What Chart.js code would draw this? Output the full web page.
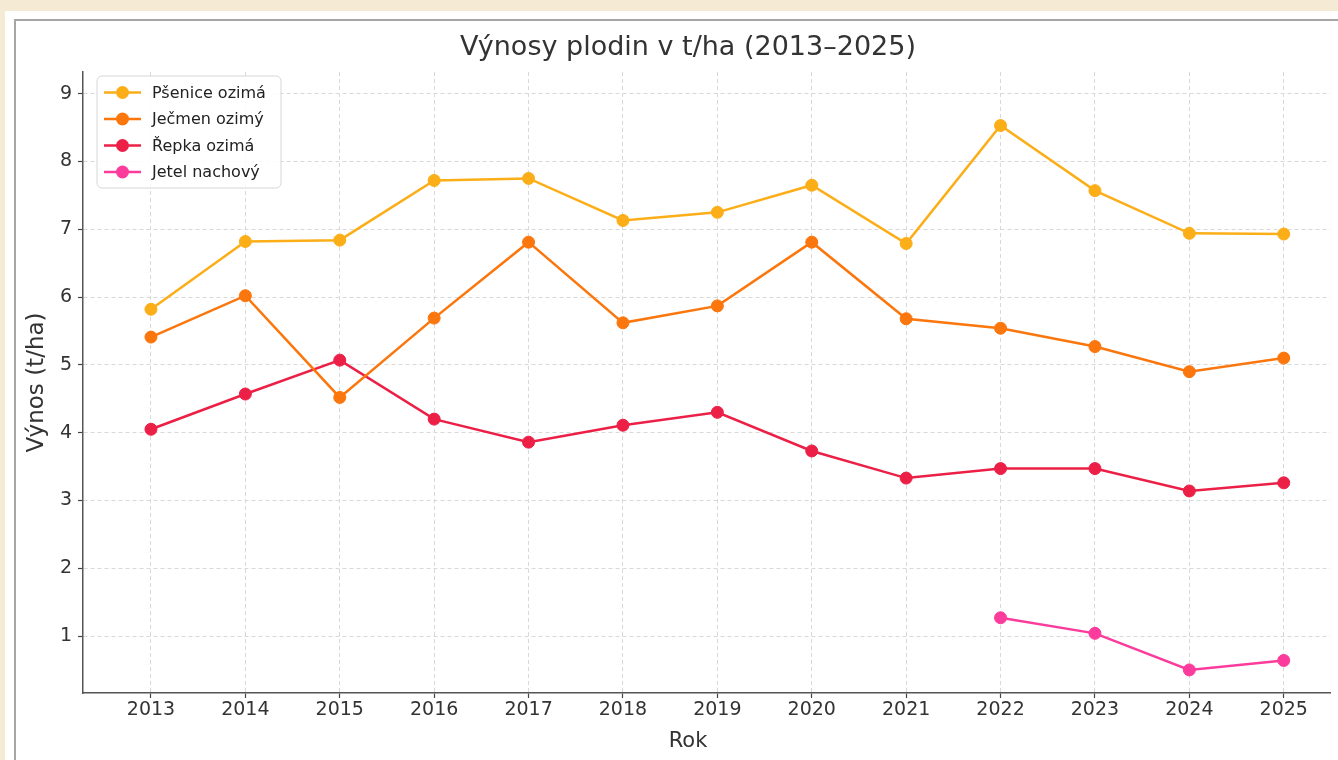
<!DOCTYPE html>
<html lang="cs">
<head>
<meta charset="utf-8">
<title>Výnosy plodin v t/ha (2013–2025)</title>
<script src="https://cdn.jsdelivr.net/npm/chart.js@4.4.1/dist/chart.umd.min.js"></script>
<style>
  html, body { margin: 0; padding: 0; }
  body {
    width: 1338px; height: 760px; overflow: hidden;
    background: #f5ebd4; position: relative;
    font-family: 'DejaVu Sans', sans-serif;
  }
  .panel { position: absolute; left: 5px; top: 11px; width: 1400px; height: 800px; background: #fff; }
  .frame { position: absolute; left: 14px; top: 19px; width: 1400px; height: 800px; border: 2px solid #a6a6a6; box-sizing: border-box; }
  #chart { position: absolute; left: 0; top: 0; }
</style>
</head>
<body>
<div class="panel"></div>
<div class="frame"></div>
<canvas id="chart" width="1338" height="760"></canvas>

<script>
/* ── data ── */
const years   = [2013, 2014, 2015, 2016, 2017, 2018, 2019, 2020, 2021, 2022, 2023, 2024, 2025];
const psenice = [5.82, 6.82, 6.84, 7.72, 7.75, 7.13, 7.25, 7.65, 6.79, 8.53, 7.57, 6.94, 6.93];
const jecmen  = [5.41, 6.02, 4.52, 5.69, 6.81, 5.62, 5.87, 6.81, 5.68, 5.54, 5.27, 4.90, 5.10];
const repka   = [4.05, 4.57, 5.07, 4.20, 3.86, 4.11, 4.30, 3.73, 3.33, 3.47, 3.47, 3.14, 3.26];
const jetel   = [null, null, null, null, null, null, null, null, null, 1.27, 1.04, 0.50, 0.64];
const yTicks  = [1, 2, 3, 4, 5, 6, 7, 8, 9];

const COLORS = {
  psenice: '#fbae17',
  jecmen:  '#fb760c',
  repka:   '#ec2046',
  jetel:   '#fb3c9c',
};

const FONT = "'DejaVu Sans', sans-serif";
Chart.defaults.font.family = FONT;
Chart.defaults.color = '#333';

function points(vals) {
  return years.map((y, i) => ({ x: y, y: vals[i] }));
}

function series(label, vals, color) {
  return {
    label,
    data: points(vals),
    borderColor: color,
    backgroundColor: color,
    borderWidth: 2.5,
    pointRadius: 6,
    pointBorderWidth: 1,
    pointBackgroundColor: color,
    pointBorderColor: color,
    tension: 0,
  };
}

/* ── legend inside plot, top-left ── */
const innerLegend = {
  id: 'innerLegend',
  afterDraw(chart) {
    const ctx = chart.ctx;
    const x = 97, y = 76, w = 184, h = 112, r = 5;
    ctx.save();
    ctx.beginPath();
    ctx.roundRect(x, y, w, h, r);
    ctx.fillStyle = 'rgba(255,255,255,0.85)';
    ctx.fill();
    ctx.strokeStyle = '#d6d6d6';
    ctx.lineWidth = 1;
    ctx.stroke();
    ctx.font = '16px ' + FONT;
    ctx.textBaseline = 'middle';
    chart.data.datasets.forEach((ds, i) => {
      const cy = y + 16.5 + i * 26.5;
      ctx.strokeStyle = ds.borderColor;
      ctx.lineWidth = 2.5;
      ctx.beginPath();
      ctx.moveTo(104, cy);
      ctx.lineTo(141, cy);
      ctx.stroke();
      ctx.fillStyle = ds.borderColor;
      ctx.beginPath();
      ctx.arc(122.5, cy, 6.5, 0, Math.PI * 2);
      ctx.fill();
      ctx.fillStyle = '#222';
      ctx.fillText(ds.label, 152, cy + 1);
    });
    ctx.restore();
  }
};

const gridOpts = { color: '#d9d9d9', lineWidth: 1, tickLength: 5, tickColor: '#444', tickWidth: 1.2 };
const borderOpts = { display: true, color: '#555', width: 1.5, dash: [4, 3] };

new Chart(document.getElementById('chart'), {
  type: 'line',
  data: {
    datasets: [
      series('Pšenice ozimá', psenice, COLORS.psenice),
      series('Ječmen ozimý',  jecmen,  COLORS.jecmen),
      series('Řepka ozimá',   repka,   COLORS.repka),
      series('Jetel nachový', jetel,   COLORS.jetel),
    ]
  },
  options: {
    responsive: false,
    animation: false,
    devicePixelRatio: 1,
    layout: { padding: { left: 46, right: 8, top: 0, bottom: 0 } },
    plugins: {
      legend: { display: false },
      tooltip: { enabled: false },
      title: {
        display: true,
        text: 'Výnosy plodin v t/ha (2013–2025)',
        color: '#333',
        font: { size: 27, weight: 'normal', lineHeight: 1.2 },
        padding: { top: 32, bottom: 7.6 },
      },
      // x-axis caption ("Rok"), placed under the tick labels
      subtitle: {
        display: true,
        position: 'bottom',
        text: 'Rok',
        color: '#333',
        font: { size: 21, weight: 'normal', lineHeight: 1.2 },
        padding: { top: 0, bottom: 5.4 },
      },
    },
    scales: {
      x: {
        type: 'linear',
        min: 2012.28,
        max: 2025.49,
        afterBuildTicks: s => { s.ticks = years.map(v => ({ value: v })); },
        afterFit: s => { s.height = 36.4; },
        ticks: { callback: v => String(v), font: { size: 19 }, color: '#333', padding: 1, maxRotation: 0 },
        grid: gridOpts,
        border: borderOpts,
      },
      y: {
        type: 'linear',
        min: 0.16,
        max: 9.32,
        afterBuildTicks: s => { s.ticks = yTicks.map(v => ({ value: v })); },
        afterFit: s => { s.width = 37; },
        ticks: { callback: v => String(v), font: { size: 19 }, color: '#333', padding: 6 },
        grid: gridOpts,
        border: borderOpts,
        title: { display: true, text: 'Výnos (t/ha)', color: '#333', font: { size: 23 }, padding: { top: -22.8, bottom: 0 } },
      }
    }
  },
  plugins: [innerLegend]
});
</script>
</body>
</html>
